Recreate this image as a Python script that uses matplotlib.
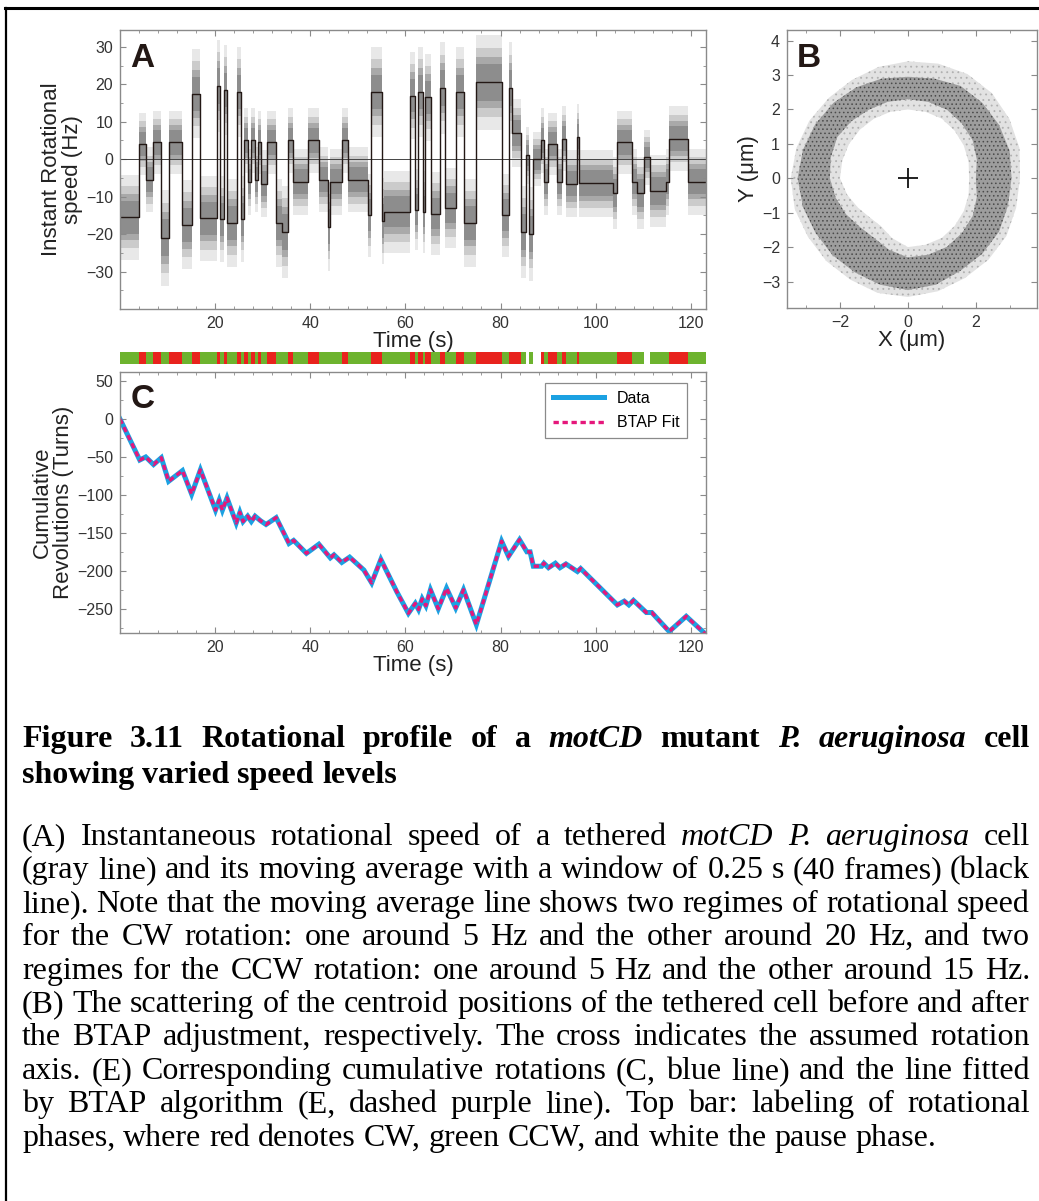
import matplotlib
matplotlib.use("Agg")
import matplotlib.pyplot as plt
import numpy as np
from matplotlib.lines import Line2D
from matplotlib.ticker import MultipleLocator

# ---- panel A: rotational speed, piecewise levels (start time in s, speed in Hz)
seg_start = [0.0, 4.0, 5.5, 6.9, 8.7, 10.3, 13.1, 15.1, 16.8, 20.4,
             21.0, 21.85, 22.6, 24.5, 25.4, 26.0, 26.9, 27.5, 28.4, 29.1,
             29.6, 31.0, 32.9, 34.0, 35.3, 36.4, 39.5, 41.8, 43.7, 44.1,
             46.6, 48.0, 52.1, 52.8, 55.0, 55.6, 61.0, 62.1, 62.7, 63.6,
             64.1, 65.3, 67.2, 68.4, 70.6, 72.3, 74.8, 80.4, 81.8, 82.4,
             84.4, 85.4, 85.9, 86.9, 88.6, 89.1, 89.9, 91.9, 92.9, 93.8,
             96.0, 96.5, 103.6, 104.5, 107.7, 108.6, 110.2, 111.5, 114.8, 115.5,
             119.5]
seg_speed = [-15.5, 4.0, -5.5, 4.5, -21.0, 4.5, -17.5, 17.5, -15.8, 19.5,
             -16.0, 18.5, -17.0, 18.0, -16.0, 5.0, -6.0, 5.0, -5.5, 4.5,
             -6.5, 4.5, -17.0, -19.5, 5.0, -6.0, 5.0, -5.5, -18.0, -6.0,
             5.0, -5.5, -15.0, 18.0, -16.5, -14.0, 17.0, -13.5, 18.0, -14.0,
             16.5, -14.5, 19.0, -13.0, 18.0, -17.0, 20.5, -15.0, 19.0, 7.0,
             -19.5, 1.0, -20.0, 0.0, 5.0, -6.0, 4.0, -6.0, 5.5, -6.5,
             6.0, -6.4, -9.0, 4.5, -6.0, -9.0, 0.5, -8.5, -6.0, 5.5,
             -6.0]
t_end = 123.2

# ---- panel B: ring of centroid positions, band radii (um) at each angle (deg)
ring_angle = [0, 15, 30, 45, 60, 75, 90, 105, 120, 135, 150, 165,
              180, 195, 210, 225, 240, 255, 270, 285, 300, 315, 330, 345]
dense_in = [2.0, 2.1, 2.2, 2.25, 2.3, 2.3, 2.3, 2.3, 2.3, 2.35, 2.4, 2.35,
            2.3, 2.2, 2.1, 2.0, 2.0, 2.15, 2.3, 2.3, 2.3, 2.25, 2.2, 2.1]
dense_out = [3.05, 3.1, 3.1, 3.1, 3.1, 3.0, 2.95, 3.0, 3.05, 3.1, 3.15, 3.2,
             3.25, 3.2, 3.15, 3.15, 3.15, 3.2, 3.25, 3.2, 3.1, 3.1, 3.1, 3.05]
faint_in = [1.8, 1.85, 1.9, 1.95, 2.0, 2.0, 2.0, 2.0, 2.0, 2.0, 2.0, 2.0,
            2.0, 1.85, 1.7, 1.6, 1.6, 1.8, 2.0, 2.0, 2.0, 1.95, 1.9, 1.85]
faint_out = [3.3, 3.4, 3.45, 3.5, 3.5, 3.45, 3.4, 3.35, 3.3, 3.3, 3.35, 3.4,
             3.45, 3.45, 3.4, 3.4, 3.4, 3.45, 3.45, 3.4, 3.35, 3.35, 3.35, 3.3]

# ---- panel C: cumulative revolutions (time s, turns)
cum_t = [0.0, 4.15, 5.41, 7.05, 8.69, 10.23, 13.13, 15.06, 16.9, 20.08,
         20.85, 21.53, 22.5, 24.43, 25.2, 25.88, 26.84, 27.61, 28.39, 29.54,
         30.7, 32.83, 35.53, 36.5, 39.2, 41.81, 44.22, 44.99, 46.63, 48.28,
         51.27, 52.91, 54.84, 58.22, 60.63, 62.08, 62.76, 63.53, 64.3, 65.27,
         66.91, 68.65, 70.58, 72.22, 74.92, 80.23, 81.68, 84.0, 85.54, 86.22,
         86.9, 88.63, 89.12, 90.08, 91.53, 92.5, 93.75, 96.17, 96.84, 104.56,
         106.01, 106.98, 107.94, 110.65, 111.8, 115.47, 119.04, 123.2]
cum_turns = [0, -54, -50, -60, -51, -82, -68, -99, -67, -120,
             -107, -120, -104, -137, -123, -135, -128, -135, -128, -134,
             -139, -130, -164, -160, -177, -165, -183, -179, -189, -182,
             -199, -216, -185, -228, -256, -243, -251, -237, -246, -225,
             -250, -223, -249, -225, -271, -161, -181, -159, -175, -175,
             -194, -194, -190, -196, -190, -196, -191, -201, -197, -245,
             -240, -245, -239, -255, -255, -280, -260, -284]

W, H = 1039, 1201
fig = plt.figure(figsize=(W / 100, H / 100), dpi=100)
labfont = "Liberation Sans"
plt.rcParams["hatch.linewidth"] = 0.6


def box(x0, y0, x1, y1):
    return [x0 / W, 1 - y1 / H, (x1 - x0) / W, (y1 - y0) / H]


def style_axes(ax):
    for s in ax.spines.values():
        s.set_color("#8a8a8a")
        s.set_linewidth(1.0)
    ax.tick_params(which="both", direction="in", top=True, right=True,
                   colors="#8a8a8a", labelcolor="#333333", labelsize=11.5)
    ax.tick_params(which="major", length=4.5, pad=5)
    ax.tick_params(which="minor", length=2.5)
    for lab in ax.get_xticklabels() + ax.get_yticklabels():
        lab.set_family(labfont)


# ---------------- A
axA = fig.add_axes(box(120, 30, 706, 309))
edges = np.array(seg_start + [t_end])
lev = np.array(seg_speed + [seg_speed[-1]])
spread = 2.8 + 0.1 * np.abs(lev)
for f, c in [(2.6, "#e8e8e8"), (1.9, "#cbcbcb"), (1.4, "#a9a9a9"), (1.0, "#8d8d8d")]:
    axA.fill_between(edges, lev - f * spread, lev + f * spread, step="post",
                     color=c, lw=0)
axA.axhline(0, color="#444444", lw=0.7)
axA.step(edges, lev, where="post", color="#231815", lw=1.0)
axA.set_xlim(0, t_end)
axA.set_ylim(-40, 34.5)
axA.set_yticks([-30, -20, -10, 0, 10, 20, 30])
axA.set_xticks([20, 40, 60, 80, 100, 120])
axA.xaxis.set_minor_locator(MultipleLocator(4))
axA.yaxis.set_minor_locator(MultipleLocator(5))
style_axes(axA)
axA.set_ylabel("Instant Rotational\nspeed (Hz)", family=labfont, fontsize=16,
               color="#222222", labelpad=2, linespacing=1.0)
axA.set_xlabel("Time (s)", family=labfont, fontsize=16, color="#222222", labelpad=0)
axA.text(0.018, 0.955, "A", transform=axA.transAxes, fontsize=24, weight="bold",
         family=labfont, color="#231815", va="top")

# ---------------- B
axB = fig.add_axes(box(787, 30, 1037, 308))
ang = np.deg2rad(np.array(ring_angle + [ring_angle[0]]))


def annulus(ax, r_in, r_out, **kw):
    ri = np.array(r_in + [r_in[0]])
    ro = np.array(r_out + [r_out[0]])
    xs = np.concatenate([ro * np.cos(ang), (ri * np.cos(ang))[::-1]])
    ys = np.concatenate([ro * np.sin(ang), (ri * np.sin(ang))[::-1]])
    ax.fill(xs, ys, lw=0, **kw)


annulus(axB, faint_in, faint_out, facecolor="#e2e2e2", edgecolor="#b0b0b0", hatch="...")
annulus(axB, dense_in, dense_out, facecolor="#9d9d9d", edgecolor="#4a4a4a", hatch="....")
axB.plot([0], [0], marker="+", ms=14, mew=1.3, color="#111111")
axB.set_xlim(-3.56, 3.8)
axB.set_ylim(-3.77, 4.31)
axB.set_xticks([-2, 0, 2])
axB.set_yticks([-3, -2, -1, 0, 1, 2, 3, 4])
axB.xaxis.set_minor_locator(MultipleLocator(1))
style_axes(axB)
axB.set_ylabel("Y (\u03bcm)", family=labfont, fontsize=16, color="#222222", labelpad=2)
axB.set_xlabel("X (\u03bcm)", family=labfont, fontsize=16, color="#222222", labelpad=0)
axB.text(0.04, 0.955, "B", transform=axB.transAxes, fontsize=24, weight="bold",
         family=labfont, color="#231815", va="top")

# ---------------- phase bar
axbar = fig.add_axes(box(120, 352, 706, 364))
dur = np.diff(edges)
bar_col = ["#e8231d" if v > 1.5 else ("#6db32e" if v < -1.5 else "white")
           for v in seg_speed]
axbar.bar(seg_start, 1, width=dur, align="edge", color=bar_col, lw=0)
axbar.set_xlim(0, t_end)
axbar.set_ylim(0, 1)
axbar.axis("off")

# ---------------- C
axC = fig.add_axes(box(120, 372, 706, 633))
axC.plot(cum_t, cum_turns, color="#1ba1e2", lw=3.6, label="Data",
         solid_joinstyle="miter")
axC.plot(cum_t, cum_turns, color="#e5177b", lw=2.4, ls=(0, (1.6, 1.1)),
         label="BTAP Fit")
axC.set_xlim(0, t_end)
axC.set_ylim(-282, 62)
axC.set_yticks([-250, -200, -150, -100, -50, 0, 50])
axC.set_xticks([20, 40, 60, 80, 100, 120])
axC.xaxis.set_minor_locator(MultipleLocator(4))
axC.yaxis.set_minor_locator(MultipleLocator(25))
style_axes(axC)
axC.set_ylabel("Cumulative\nRevolutions (Turns)", family=labfont, fontsize=16,
               color="#222222", labelpad=2, linespacing=1.0)
axC.set_xlabel("Time (s)", family=labfont, fontsize=16, color="#222222", labelpad=0)
axC.text(0.018, 0.955, "C", transform=axC.transAxes, fontsize=24, weight="bold",
         family=labfont, color="#231815", va="top")
leg = axC.legend(loc="upper right", handlelength=3.2,
                 prop={"family": labfont, "size": 11.5},
                 fancybox=False, edgecolor="#8a8a8a", framealpha=1,
                 borderpad=0.5, labelspacing=0.6, bbox_to_anchor=(0.982, 0.99))
leg.get_frame().set_linewidth(0.9)

# ---------------- frame lines
fig.add_artist(Line2D([5 / W, 1], [1 - 7.5 / H] * 2, transform=fig.transFigure,
                      color="black", lw=2.2))
fig.add_artist(Line2D([6 / W] * 2, [0, 1 - 7.5 / H], transform=fig.transFigure,
                      color="black", lw=1.6))

# ---------------- caption
renderer = fig.canvas.get_renderer()
cap_size = 23
x_left, x_right = 22, 1030


def caption_line(y, line, bold=False, justify=True):
    words = line.split(" ")
    items = []
    for w in words:
        it = w.startswith("_") and w.endswith("_")
        txt = w.strip("_") if it else w
        t = fig.text(0, 1 - y / H, txt, fontsize=cap_size, family="Liberation Serif",
                     weight="bold" if bold else "normal",
                     style="italic" if it else "normal", va="baseline", ha="left")
        items.append((t, t.get_window_extent(renderer).width))
    total = sum(wd for _, wd in items)
    if justify and len(items) > 1:
        gap = (x_right - x_left - total) / (len(items) - 1)
    else:
        gap = 0.25 * cap_size * 100 / 72
    x = x_left
    for t, wd in items:
        t.set_x(x / W)
        x += wd + gap


title_lines = ["Figure 3.11 Rotational profile of a _motCD_ mutant _P._ _aeruginosa_ cell",
               "showing varied speed levels"]
body_lines = [
    "(A) Instantaneous rotational speed of a tethered _motCD_ _P._ _aeruginosa_ cell",
    "(gray line) and its moving average with a window of 0.25 s (40 frames) (black",
    "line). Note that the moving average line shows two regimes of rotational speed",
    "for the CW rotation: one around 5 Hz and the other around 20 Hz, and two",
    "regimes for the CCW rotation: one around 5 Hz and the other around 15 Hz.",
    "(B) The scattering of the centroid positions of the tethered cell before and after",
    "the BTAP adjustment, respectively. The cross indicates the assumed rotation",
    "axis. (E) Corresponding cumulative rotations (C, blue line) and the line fitted",
    "by BTAP algorithm (E, dashed purple line). Top bar: labeling of rotational",
    "phases, where red denotes CW, green CCW, and white the pause phase.",
]
caption_line(747, title_lines[0], bold=True)
caption_line(783, title_lines[1], bold=True, justify=False)
for i, line in enumerate(body_lines):
    caption_line(845 + 33.4 * i, line, justify=(i < len(body_lines) - 1))

fig.savefig("out.png", dpi=100, facecolor="white")
